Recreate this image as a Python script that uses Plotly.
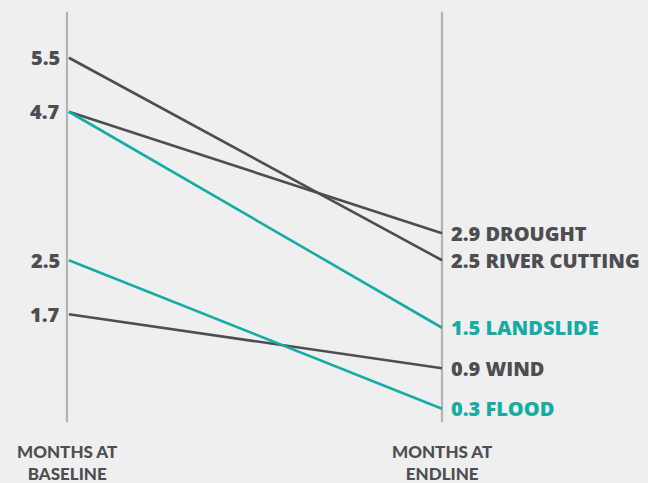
import plotly.graph_objects as go

categories = ["DROUGHT", "RIVER CUTTING", "LANDSLIDE", "WIND", "FLOOD"]
baseline = [4.7, 5.5, 4.7, 1.7, 2.5]
endline = [2.9, 2.5, 1.5, 0.9, 0.3]
highlight = [False, False, True, False, True]
left_ticks = [5.5, 4.7, 2.5, 1.7]
axis_titles = ["MONTHS AT<br>BASELINE", "MONTHS AT<br>ENDLINE"]

DARK = "#4d4e52"
TEAL = "#16aca6"
AXIS = "#b3b3b3"
BG = "#efefef"
FONT = "Open Sans"

fig = go.Figure()

# vertical axes
for xv in [0, 1]:
    fig.add_shape(type="line", x0=xv, x1=xv, y0=0.10, y1=6.18, xref="x", yref="y",
                  line=dict(color=AXIS, width=2.2), layer="below")

for name, b, e, h in zip(categories, baseline, endline, highlight):
    col = TEAL if h else DARK
    fig.add_trace(go.Scatter(x=[0.005, 1], y=[b, e], mode="lines",
                             line=dict(color=col, width=2.6), hoverinfo="skip",
                             showlegend=False))
    fig.add_annotation(x=1, y=e, xref="x", yref="y", text=f"{e} {name}",
                       showarrow=False, xanchor="left", yanchor="middle", xshift=7,
                       font=dict(family=FONT, size=20, color=col, weight=800))

for t in left_ticks:
    fig.add_annotation(x=0, y=t, xref="x", yref="y", text=f"{t}",
                       showarrow=False, xanchor="right", yanchor="middle", xshift=-5,
                       font=dict(family=FONT, size=20, color=DARK, weight=800))

for xv, title in zip([0, 1], axis_titles):
    fig.add_annotation(x=xv, y=-0.50, xref="x", yref="y", text=title,
                       showarrow=False, xanchor="center", yanchor="middle",
                       font=dict(family="Lato", size=17, color=DARK, weight=900))

xmin = -67 / 375
fig.update_layout(
    width=648, height=483,
    margin=dict(l=0, r=0, t=0, b=0),
    paper_bgcolor=BG, plot_bgcolor=BG,
    xaxis=dict(range=[xmin, xmin + 648 / 375], visible=False, fixedrange=True),
    yaxis=dict(range=[-54 / 67.5, 429 / 67.5], visible=False, fixedrange=True),
)

fig.write_html(
    "out.html",
    config={"displayModeBar": False},
    post_script="document.body.style.margin='0';document.body.style.background='#efefef';document.body.style.overflow='hidden';",
)
